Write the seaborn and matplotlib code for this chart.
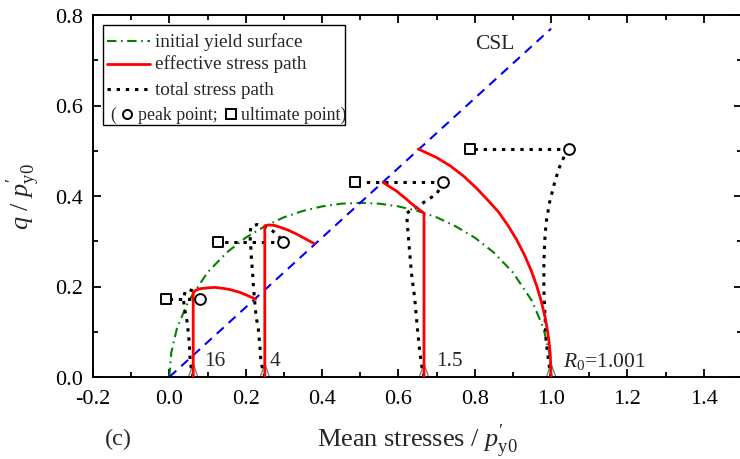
import matplotlib
matplotlib.use("Agg")
import matplotlib.pyplot as plt
import seaborn as sns
import pandas as pd
from matplotlib.patches import Rectangle
from matplotlib.ticker import MultipleLocator, FormatStrFormatter

# ---------------- data ----------------
yield_p = [0.0, 0.005, 0.02, 0.05, 0.1, 0.15, 0.2, 0.25, 0.3, 0.35, 0.4, 0.45, 0.5,
           0.55, 0.6, 0.65, 0.7, 0.75, 0.8, 0.85, 0.9, 0.95, 0.98, 0.995, 1.0]
yield_q = [0.0, 0.054, 0.108, 0.168, 0.231, 0.275, 0.308, 0.333, 0.353, 0.367, 0.377, 0.383, 0.385,
           0.383, 0.377, 0.367, 0.353, 0.333, 0.308, 0.275, 0.231, 0.168, 0.108, 0.054, 0.0]

csl_p = [0.0, 1.0]
csl_q = [0.0, 0.77]

# effective stress paths
eff_p_16 = [0.0625, 0.0625, 0.07, 0.08, 0.10, 0.12, 0.14, 0.16, 0.185, 0.205, 0.226]
eff_q_16 = [0.0, 0.187, 0.192, 0.195, 0.197, 0.198, 0.196, 0.193, 0.187, 0.180, 0.172]
eff_p_4 = [0.25, 0.25, 0.26, 0.275, 0.29, 0.31, 0.333, 0.355, 0.379]
eff_q_4 = [0.0, 0.334, 0.336, 0.335, 0.331, 0.325, 0.316, 0.306, 0.295]
eff_p_15 = [0.667, 0.667, 0.656, 0.645, 0.633, 0.621, 0.608, 0.595, 0.578, 0.56]
eff_q_15 = [0.0, 0.362, 0.369, 0.376, 0.384, 0.393, 0.402, 0.411, 0.42, 0.43]
eff_p_1 = [1.0, 0.998, 0.995, 0.99, 0.984, 0.974, 0.962, 0.948, 0.93, 0.91, 0.887,
           0.862, 0.835, 0.805, 0.772, 0.737, 0.70, 0.652]
eff_q_1 = [0.0, 0.047, 0.075, 0.105, 0.133, 0.168, 0.202, 0.235, 0.27, 0.303, 0.335,
           0.365, 0.39, 0.417, 0.443, 0.466, 0.485, 0.504]

# total stress paths
tot_p_16 = [0.0625, 0.055, 0.052, 0.047, 0.040, 0.037, 0.041, 0.050, 0.062, 0.072, 0.079]
tot_q_16 = [0.0, 0.03, 0.077, 0.12, 0.15, 0.17, 0.188, 0.194, 0.19, 0.182, 0.172]
tot_p_4 = [0.25, 0.24, 0.237, 0.233, 0.227, 0.223, 0.220, 0.218, 0.215, 0.213, 0.211, 0.214,
           0.23, 0.25, 0.27, 0.286, 0.297]
tot_q_4 = [0.0, 0.032, 0.069, 0.106, 0.135, 0.172, 0.202, 0.231, 0.261, 0.29, 0.316, 0.333,
           0.337, 0.333, 0.323, 0.312, 0.299]
tot_p_15 = [0.667, 0.662, 0.656, 0.649, 0.643, 0.634, 0.628, 0.623, 0.622, 0.635, 0.649, 0.673, 0.70, 0.717]
tot_q_15 = [0.0, 0.02, 0.055, 0.113, 0.172, 0.231, 0.29, 0.342, 0.362, 0.37, 0.375, 0.39, 0.404, 0.43]
tot_p_1 = [1.0, 0.996, 0.987, 0.984, 0.981, 0.981, 0.983, 0.987, 0.996, 1.007, 1.02, 1.035, 1.047]
tot_q_1 = [0.0, 0.018, 0.077, 0.135, 0.194, 0.253, 0.298, 0.342, 0.386, 0.423, 0.46, 0.489, 0.503]

# peak (circle) and ultimate (square) points
peak_p = [0.079, 0.297, 0.717, 1.047]
peak_q = [0.172, 0.299, 0.43, 0.503]
ult_p = [-0.01, 0.127, 0.485, 0.787]
ult_q = [0.172, 0.299, 0.43, 0.503]

# initial states
p0_values = [0.0625, 0.25, 0.667, 1.0]
r0_labels = ["16", "4", "1.5", r"$R_0$=1.001"]
r0_label_p = [0.09, 0.263, 0.70, 1.03]

# ---------------- style ----------------
sns.set_style("ticks")
plt.rcParams["font.family"] = ["Liberation Serif", "DejaVu Serif"]
plt.rcParams["mathtext.fontset"] = "custom"
plt.rcParams["mathtext.rm"] = "Liberation Serif"
plt.rcParams["mathtext.it"] = "Liberation Serif:italic"
plt.rcParams["axes.unicode_minus"] = False

fig = plt.figure(figsize=(7.4, 4.6), dpi=100)
ax = fig.add_axes([93 / 740, 82 / 460, 649 / 740, 362 / 460])

GREEN = "#008000"
RED = "#ff0000"
BLUE = "#0000ff"

def line(px, py, **kw):
    df = pd.DataFrame({"p": px, "q": py})
    sns.lineplot(data=df, x="p", y="q", sort=False, estimator=None, ax=ax, **kw)

# arrows at initial states
for p0 in p0_values:
    ax.annotate("", xy=(p0, 0.034), xytext=(p0, 0.0),
                arrowprops=dict(arrowstyle="->,head_length=0.85,head_width=0.3",
                                color="#7f7f7f", lw=1.0, shrinkA=0, shrinkB=0,
                                mutation_scale=10), zorder=1)

line(yield_p, yield_q, color=GREEN, lw=1.5, dashes=(4.5, 2.2, 0.8, 2.2), zorder=2)
line(csl_p, csl_q, color=BLUE, lw=1.5, dashes=(4.5, 3.2), zorder=2)

dot = (0, (1.1, 1.9))
for tp, tq, k in [(tot_p_16, tot_q_16, 0), (tot_p_4, tot_q_4, 1),
                  (tot_p_15, tot_q_15, 2), (tot_p_1, tot_q_1, 3)]:
    line(tp, tq, color="black", lw=2.2, linestyle=dot, zorder=3)
    line([peak_p[k], ult_p[k]], [peak_q[k], ult_q[k]], color="black", lw=2.2, linestyle=dot, zorder=3)

for ep, eq in [(eff_p_16, eff_q_16), (eff_p_4, eff_q_4), (eff_p_15, eff_q_15), (eff_p_1, eff_q_1)]:
    line(ep, eq, color=RED, lw=2.0, zorder=4)

sns.scatterplot(x=peak_p, y=peak_q, marker="o", s=60, facecolor="white",
                edgecolor="black", linewidth=1.4, ax=ax, zorder=5)
sns.scatterplot(x=ult_p, y=ult_q, marker="s", s=55, facecolor="white",
                edgecolor="black", linewidth=1.4, ax=ax, zorder=5)

for lp, lab in zip(r0_label_p, r0_labels):
    ax.text(lp, 0.036, lab, fontsize=15.5, va="center", ha="left")

ax.text(0.80, 0.736, "CSL", fontsize=15.5, va="center", ha="left")

# ---------------- axes ----------------
ax.set_xlim(-0.2, 1.5)
ax.set_ylim(0.0, 0.8)
ax.xaxis.set_major_locator(MultipleLocator(0.2))
ax.xaxis.set_minor_locator(MultipleLocator(0.1))
ax.yaxis.set_major_locator(MultipleLocator(0.2))
ax.yaxis.set_minor_locator(MultipleLocator(0.1))
ax.xaxis.set_major_formatter(FormatStrFormatter("%.1f"))
ax.yaxis.set_major_formatter(FormatStrFormatter("%.1f"))
ax.tick_params(which="both", direction="in", top=True, right=True, width=1.3,
               labelsize=16, pad=7, colors="black")
ax.tick_params(axis="x", which="both", pad=9)
ax.tick_params(which="major", length=6)
ax.tick_params(which="minor", length=3.5)
for s in ax.spines.values():
    s.set_linewidth(1.4)
    s.set_color("black")
ax.set_xlabel(r"Mean stresses / $p^{\prime}_{\mathrm{y0}}$", fontsize=19, labelpad=9)
ax.set_ylabel(r"$q$ / $p^{\prime}_{\mathrm{y0}}$", fontsize=19, labelpad=10)
fig.text(105 / 740, 1 - 439 / 460, "(c)", fontsize=17.5, va="center", ha="left")

# ---------------- legend (drawn in axes coordinates) ----------------
T = ax.transAxes
ax.add_patch(Rectangle((0.0159, 0.696), 0.389 - 0.0159, 0.972 - 0.696, transform=T,
                       facecolor="white", edgecolor="black", lw=1.0, zorder=6))
hx = [0.0216, 0.0878]
rows = [0.928, 0.866, 0.795]
ax.plot(hx, [rows[0]] * 2, transform=T, color=GREEN, lw=1.5, dashes=(4.5, 2.2, 0.8, 2.2), zorder=7)
ax.plot(hx, [rows[1]] * 2, transform=T, color=RED, lw=2.0, zorder=7)
ax.plot(hx, [rows[2]] * 2, transform=T, color="black", lw=2.2, linestyle=dot, zorder=7)
labels = ["initial yield surface", "effective stress path", "total stress path"]
for y, lab in zip(rows, labels):
    ax.text(0.0955, y, lab, transform=T, fontsize=13.8, va="center", ha="left", zorder=7)
r4 = 0.726
ax.text(0.026, r4, "(", transform=T, fontsize=12.8, va="center", ha="left", zorder=7)
ax.plot([0.052], [r4], transform=T, marker="o", ms=6.5, mfc="white", mec="black", mew=1.4,
        zorder=7, clip_on=False)
ax.text(0.069, r4, "peak point;", transform=T, fontsize=12.8, va="center", ha="left", zorder=7)
ax.plot([0.2126], [r4], transform=T, marker="s", ms=6.5, mfc="white", mec="black", mew=1.4,
        zorder=7, clip_on=False)
ax.text(0.228, r4, "ultimate point)", transform=T, fontsize=12.8, va="center", ha="left", zorder=7)

fig.savefig("out.png", dpi=100)
